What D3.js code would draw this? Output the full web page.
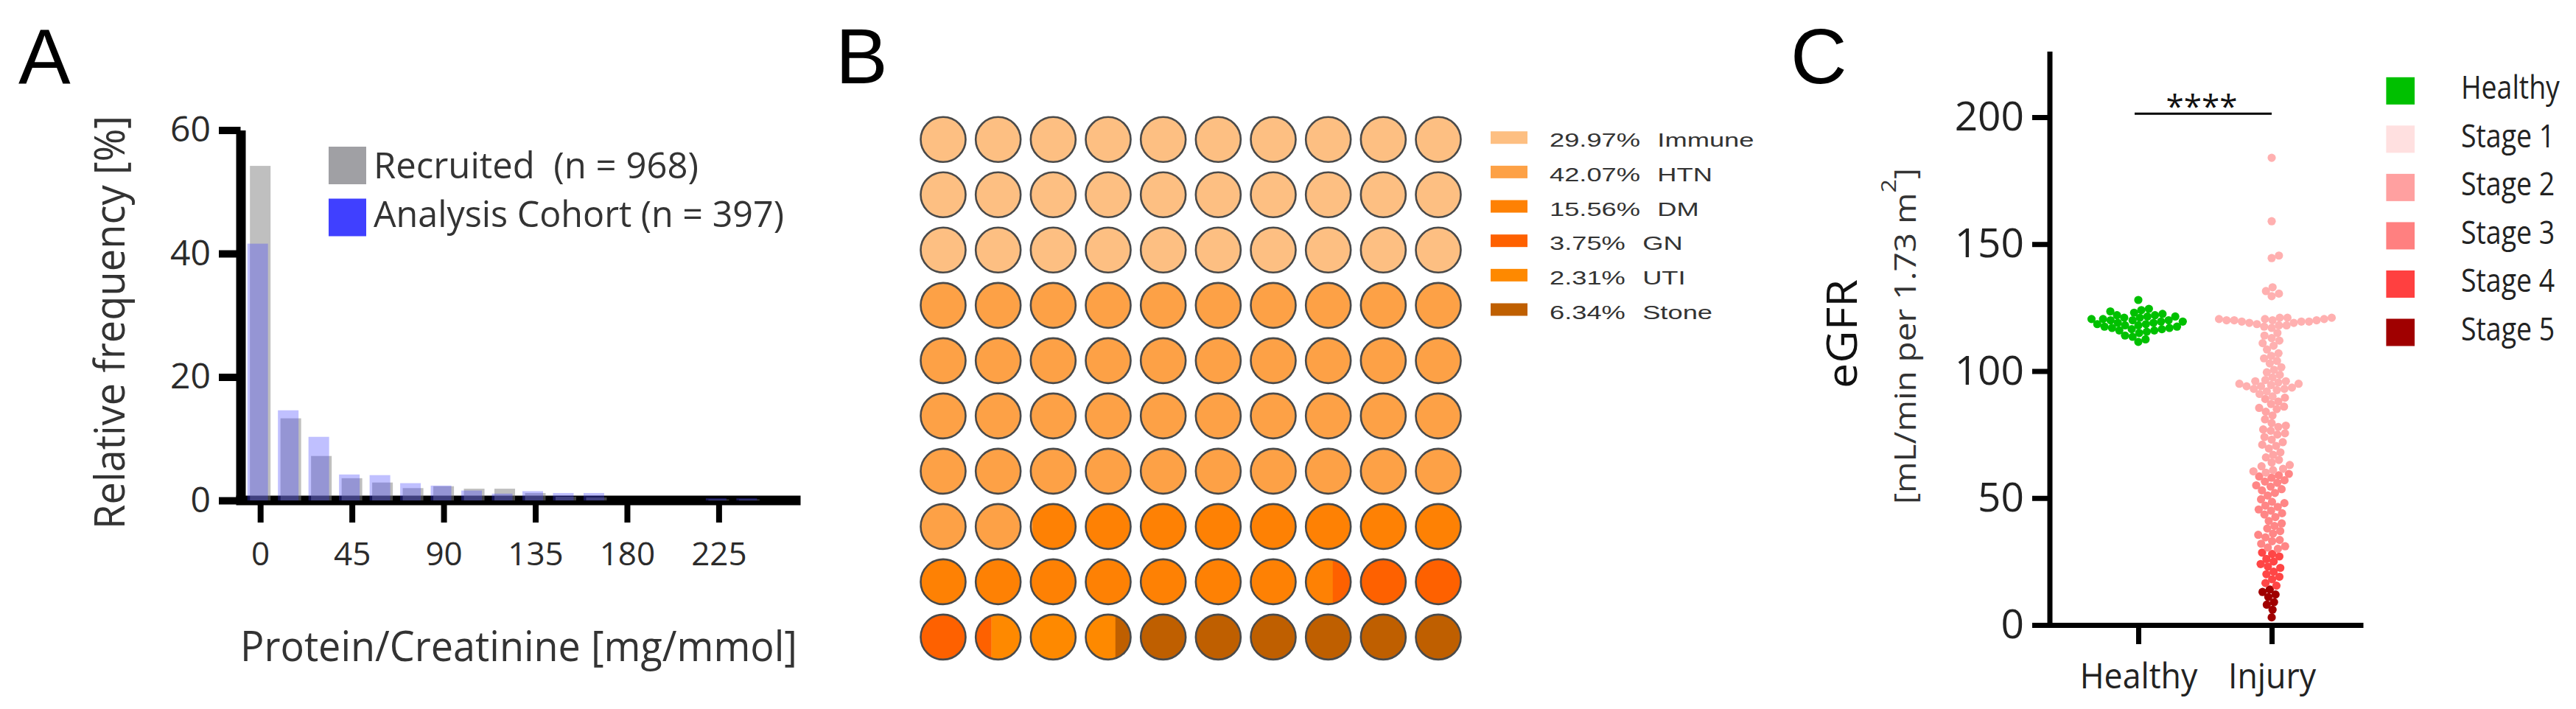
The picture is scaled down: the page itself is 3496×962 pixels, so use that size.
<!DOCTYPE html>
<html><head><meta charset="utf-8">
<script src="https://cdn.jsdelivr.net/npm/d3@7/dist/d3.min.js"></script>
<style>html,body{margin:0;padding:0;background:#fff;} svg{display:block;} text{white-space:pre;}</style>
</head><body>
<svg id="chart" width="3496" height="962"></svg>
<script>
// ---------------- DATA ----------------
// Panel A: histogram of protein/creatinine (bin centres, mg/mmol) and relative frequency (%)
const binCenters    = [0, 15, 30, 45, 60, 75, 90, 105, 120, 135, 150, 165, 180, 195, 210, 225, 240];
const recruitedPct  = [54.2, 13.3, 7.2, 3.6, 2.9, 2.0, 2.3, 1.9, 1.9, 1.2, 0.6, 0.5, 0, 0, 0, 0.15, 0.15];
const analysisPct   = [41.6, 14.6, 10.3, 4.2, 4.1, 2.8, 2.4, 1.6, 1.1, 1.5, 1.2, 1.2, 0, 0, 0, 0.35, 0.35];
const aXTicks = [0, 45, 90, 135, 180, 225];
const aYTicks = [0, 20, 40, 60];
const aLegend = ["Recruited  (n = 968)", "Analysis Cohort (n = 397)"];

// Panel B: waffle of causes (%)
const causes   = ["Immune", "HTN", "DM", "GN", "UTI", "Stone"];
const causePct = [29.97, 42.07, 15.56, 3.75, 2.31, 6.34];

// Panel C: eGFR swarm
const cCategories = ["Healthy", "Injury"];
const cYTicks = [0, 50, 100, 150, 200];
const healthyEGFR = [128, 124.5, 124, 123.5, 123, 122.5, 122, 122, 121.5, 121.5, 121, 121, 120.5, 120.5,
  120, 120, 120, 119.5, 119.5, 119, 119, 118.5, 118.5, 118, 118, 117.5, 117.5, 117, 117, 116.5, 116.5,
  116, 116, 115.5, 115, 114, 113.5, 112.5, 111.5];
const injuryEGFR = [184, 159, 145.5, 144.5, 133, 131.5, 130.5, 129.5,
  121, 121, 121, 120.5, 120.5, 120.5, 120, 120, 120, 120, 119.5, 119.5, 119.5, 119, 119, 118.5, 118, 118, 117.5, 117,
  115, 114, 113, 112, 111, 110, 108.5, 107, 106, 105, 104, 103, 101.5, 100.5, 99.5, 98.5, 97.5,
  96.5, 96, 96, 95.5, 95, 95, 94.5, 94, 94, 93.5, 93, 93, 92.5, 92, 91, 90,
  89.5, 89, 88, 87, 86, 85.5, 85, 84, 82.5, 81, 79.5, 78.5, 78, 77, 76.5, 75.5, 75, 74, 73, 72, 71, 70.5,
  69.5, 68, 67, 66, 65, 64, 63, 62.5, 61.5, 61, 60.5, 60,
  59.5, 59, 58.5, 58, 57, 56.5, 56, 55, 54.5, 53.5, 53, 52, 51, 49.5, 48.5, 48, 47, 46.5, 45.5, 45, 44, 43.5,
  42.5, 41, 40, 39, 38, 37, 36, 35.5, 34.5, 33.5, 33, 32, 31, 30.5, 30,
  28.5, 28, 27, 26, 25, 24, 23, 22.5, 21, 20, 19, 18, 16.5, 15.5,
  14, 13, 12, 11, 9, 8, 6, 3];
const stageNames  = ["Healthy", "Stage 1", "Stage 2", "Stage 3", "Stage 4", "Stage 5"];
const stageLower  = [90, 60, 30, 15, 0];   // lower eGFR bound of stage 1..5

// ---------------- STYLES ----------------
const causeColors  = ["#fdbf82", "#fda146", "#fe8104", "#fe6100", "#fe8900", "#bf5f00"];
const legendColors = ["#00c000", "#ffe0e0", "#ffa0a0", "#ff8080", "#ff4040", "#a00000"];
const pointColors  = ["#ffb0b0", "#ffa5a5", "#ff8686", "#ff4646", "#a00000"];
const SANS = "'Open Sans', 'Noto Sans', sans-serif";
const ARIAL = "'Liberation Sans', Arial, sans-serif";

const svg = d3.select("#chart");
svg.append("rect").attr("width", 3496).attr("height", 962).attr("fill", "#fff");

function condense(sel, k) {
  sel.each(function () {
    const L = this.getComputedTextLength();
    d3.select(this).attr("textLength", L * k).attr("lengthAdjust", "spacingAndGlyphs");
  });
}

// panel letters
[["A", 25], ["B", 1134], ["C", 2430]].forEach(([t, x]) => {
  svg.append("text").attr("x", x).attr("y", 113).text(t)
    .attr("font-family", ARIAL).attr("font-size", 106).attr("fill", "#000");
});

// ================= PANEL A =================
const gA = svg.append("g");
const xA = d3.scaleLinear().domain([-12, 265]).range([320, 1086]);
const yA = d3.scaleLinear().domain([0, 60]).range([679, 176.5]);

const axYA = gA.append("g").attr("transform", "translate(326.5,0)")
  .call(d3.axisLeft(yA).tickValues(aYTicks).tickSizeInner(29.5).tickSizeOuter(0).tickPadding(11).tickFormat(d3.format("d")));
axYA.select(".domain").attr("stroke", "#000").attr("stroke-width", 13);
axYA.selectAll(".tick line").attr("stroke", "#000").attr("stroke-width", 10);
axYA.selectAll(".tick text").attr("font-family", SANS).attr("font-size", 48).attr("fill", "#2b2b2b");

const axXA = gA.append("g").attr("transform", "translate(0,678.5)")
  .call(d3.axisBottom(xA).tickValues(aXTicks).tickSizeInner(30.5).tickSizeOuter(0).tickPadding(27));
axXA.select(".domain").attr("stroke", "#000").attr("stroke-width", 13);
axXA.selectAll(".tick line").attr("stroke", "#000").attr("stroke-width", 8);
axXA.selectAll(".tick text").attr("font-family", SANS).attr("font-size", 44).attr("fill", "#2b2b2b");

const barW = 28;
gA.append("g").selectAll("rect").data(binCenters.map((c, i) => ({ c, v: recruitedPct[i] })).filter(d => d.v > 0))
  .join("rect")
  .attr("x", d => xA(d.c) - barW / 2).attr("width", barW)
  .attr("y", d => yA(d.v)).attr("height", d => yA(0) - yA(d.v))
  .attr("fill", "rgb(128,128,128)").attr("fill-opacity", 0.5);
gA.append("g").selectAll("rect").data(binCenters.map((c, i) => ({ c, v: analysisPct[i] })).filter(d => d.v > 0))
  .join("rect")
  .attr("x", d => xA(d.c) - barW / 2 - 3.5).attr("width", barW)
  .attr("y", d => yA(d.v)).attr("height", d => yA(0) - yA(d.v))
  .attr("fill", "rgb(64,64,255)").attr("fill-opacity", 0.33);

// legend A
const legA = [{ t: aLegend[0], c: "#a0a0a4", y: 199, base: 241.6, len: 441 },
              { t: aLegend[1], c: "#4040ff", y: 269.5, base: 308, len: 557 }];
legA.forEach(d => {
  gA.append("rect").attr("x", 446).attr("y", d.y).attr("width", 51).attr("height", 51).attr("fill", d.c);
  gA.append("text").attr("x", 507).attr("y", d.base).text(d.t)
    .attr("font-family", SANS).attr("font-size", 50).attr("fill", "#333")
    .attr("textLength", d.len).attr("lengthAdjust", "spacingAndGlyphs");
});
gA.append("text").attr("transform", "translate(169,437.5) rotate(-90)").attr("text-anchor", "middle")
  .text("Relative frequency [%]").attr("font-family", SANS).attr("font-size", 56).attr("fill", "#333")
  .attr("textLength", 561).attr("lengthAdjust", "spacingAndGlyphs");
gA.append("text").attr("x", 704).attr("y", 897).attr("text-anchor", "middle")
  .text("Protein/Creatinine [mg/mmol]").attr("font-family", SANS).attr("font-size", 56).attr("fill", "#333")
  .attr("textLength", 756).attr("lengthAdjust", "spacingAndGlyphs");

// ================= PANEL B =================
const gB = svg.append("g");
const colB = d3.scaleLinear().domain([0, 9]).range([1280, 1952]);
const rowB = d3.scaleLinear().domain([0, 9]).range([189.3, 864.4]);
const rB = 30.5;
const cum = []; { let acc = 0; causePct.forEach(p => { cum.push([acc, acc + p]); acc += p; }); }
const defsB = svg.append("defs");
d3.range(100).forEach(i => {
  const cx = colB(i % 10), cy = rowB(Math.floor(i / 10));
  defsB.append("clipPath").attr("id", "cc" + i).append("circle").attr("cx", cx).attr("cy", cy).attr("r", rB);
  const cell = gB.append("g").attr("clip-path", `url(#cc${i})`);
  cum.forEach(([a, b], k) => {
    const lo = Math.max(a, i), hi = Math.min(b, i + 1);
    if (hi - lo > 0.001) {
      cell.append("rect").attr("x", cx - rB + (lo - i) * 2 * rB).attr("width", (hi - lo) * 2 * rB + 0.3)
        .attr("y", cy - rB).attr("height", 2 * rB).attr("fill", causeColors[k]);
    }
  });
  gB.append("circle").attr("cx", cx).attr("cy", cy).attr("r", rB)
    .attr("fill", "none").attr("stroke", "#4a4a4a").attr("stroke-width", 2.6);
});
// legend B
const legRowB = d3.scaleLinear().domain([0, 5]).range([186.7, 420]);
causes.forEach((name, k) => {
  const y = legRowB(k);
  gB.append("rect").attr("x", 2023).attr("y", y - 8.5).attr("width", 50).attr("height", 17).attr("fill", causeColors[k]);
  const t = gB.append("text").attr("transform", `translate(2103,${y + 12.5}) scale(1.37,1)`)
    .attr("font-family", ARIAL).attr("font-size", 26.5).attr("fill", "#333");
  t.append("tspan").text(causePct[k].toFixed(2) + "%");
  t.append("tspan").attr("dx", 17).text(name);
});

// ================= PANEL C =================
const gC = svg.append("g");
const yC = d3.scaleLinear().domain([0, 226]).range([848, 69.4]);
const xC = d3.scalePoint().domain(cCategories).range([2778, 3207]).padding(0.685);

const axYC = gC.append("g").attr("transform", "translate(2781.5,0)")
  .call(d3.axisLeft(yC).tickValues(cYTicks).tickSizeInner(23.5).tickSizeOuter(0).tickPadding(11));
axYC.select(".domain").attr("stroke", "#000").attr("stroke-width", 7);
axYC.selectAll(".tick line").attr("stroke", "#000").attr("stroke-width", 7);
axYC.selectAll(".tick text").attr("font-family", SANS).attr("font-size", 55).attr("fill", "#222");

const axXC = gC.append("g").attr("transform", "translate(0,848)")
  .call(d3.axisBottom(xC).tickSizeInner(26).tickSizeOuter(0).tickPadding(26));
axXC.select(".domain").attr("stroke", "#000").attr("stroke-width", 7);
axXC.selectAll(".tick line").attr("stroke", "#000").attr("stroke-width", 7);
axXC.selectAll(".tick text").attr("font-family", SANS).attr("font-size", 48).attr("fill", "#222").call(condense, 0.93);

function stageOf(v) { for (let s = 0; s < stageLower.length; s++) if (v >= stageLower[s]) return s; return 4; }
function swarm(values, d) {
  const pts = values.map(v => ({ v, y: yC(v) })).sort((a, b) => a.v - b.v);
  const placed = [];
  pts.forEach(p => {
    const near = placed.filter(q => Math.abs(q.y - p.y) < d);
    const cands = [0];
    near.forEach(q => { const dx = Math.sqrt(d * d - (q.y - p.y) ** 2); cands.push(q.dx + dx, q.dx - dx); });
    cands.sort((a, b) => Math.abs(a) - Math.abs(b));
    for (const c of cands) {
      if (near.every(q => (q.dx - c) ** 2 + (q.y - p.y) ** 2 >= d * d - 0.01)) { p.dx = c; break; }
    }
    placed.push(p);
  });
  return placed;
}
const rPt = 5.6, dPt = 10.4;
gC.append("g").selectAll("circle").data(swarm(healthyEGFR, dPt)).join("circle")
  .attr("cx", d => xC("Healthy") + d.dx).attr("cy", d => d.y).attr("r", rPt).attr("fill", legendColors[0]);
gC.append("g").selectAll("circle").data(swarm(injuryEGFR, dPt)).join("circle")
  .attr("cx", d => xC("Injury") + d.dx).attr("cy", d => d.y).attr("r", rPt).attr("fill", d => pointColors[stageOf(d.v)]);

// significance
gC.append("line").attr("x1", xC("Healthy") - 5).attr("x2", xC("Injury")).attr("y1", 154.3).attr("y2", 154.3)
  .attr("stroke", "#000").attr("stroke-width", 3);
gC.append("text").attr("x", 2988).attr("y", 160).attr("text-anchor", "middle").text("****")
  .attr("font-family", SANS).attr("font-size", 44).attr("fill", "#111");

// axis titles
gC.append("text").attr("transform", "translate(2519.5,453) rotate(-90)").attr("text-anchor", "middle")
  .text("eGFR").attr("font-family", SANS).attr("font-size", 56).attr("fill", "#111")
  .attr("textLength", 148).attr("lengthAdjust", "spacingAndGlyphs");
const sub = gC.append("text").attr("transform", "translate(2600,456) rotate(-90)").attr("text-anchor", "middle")
  .attr("font-family", SANS).attr("font-size", 40).attr("fill", "#333");
sub.append("tspan").text("[mL/min per 1.73 m");
sub.append("tspan").attr("dy", -27).attr("font-size", 28).text("2");
sub.append("tspan").attr("dy", 27).text("]");
sub.attr("textLength", 456).attr("lengthAdjust", "spacingAndGlyphs");

// legend C
const legRowC = d3.scaleLinear().domain([0, 5]).range([123.3, 451]);
stageNames.forEach((name, k) => {
  const y = legRowC(k);
  gC.append("rect").attr("x", 3238.4).attr("y", y - 18.5).attr("width", 38.6).attr("height", 37).attr("fill", legendColors[k]);
  gC.append("text").attr("x", 3340).attr("y", y + 11).text(name)
    .attr("font-family", SANS).attr("font-size", 43).attr("fill", "#222").call(condense, 0.87);
});
</script>
</body></html>
